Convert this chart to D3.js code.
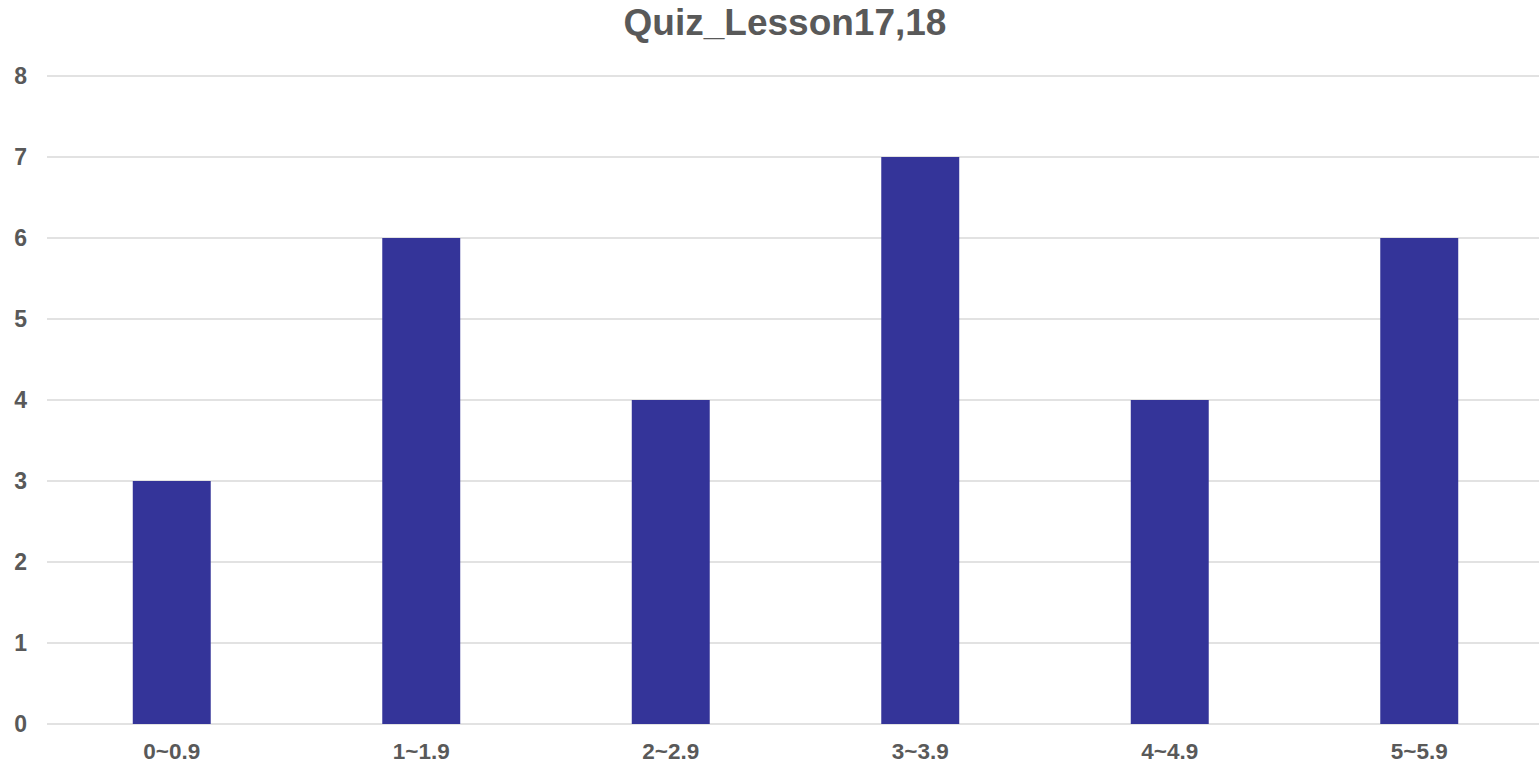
<!DOCTYPE html>
<html><head><meta charset="utf-8">
<script src="https://cdn.jsdelivr.net/npm/d3@7"></script>
<style>html,body{margin:0;padding:0;background:#fff;overflow:hidden}</style>
</head><body>
<svg id="chart" width="1539" height="765"></svg>
<script>
const categories = ["0~0.9","1~1.9","2~2.9","3~3.9","4~4.9","5~5.9"];
const values = [3,6,4,7,4,6];
const yTicks = [0,1,2,3,4,5,6,7,8];
const title = "Quiz_Lesson17,18";

const svg = d3.select("#chart");
const font = "'Liberation Sans', Arial, sans-serif";
const x = d3.scaleBand().domain(categories).range([47, 1544]).padding(0);
const y = d3.scaleLinear().domain([0, 8]).range([724, 76]);
const barW = x.bandwidth() * 0.3125;

svg.append("g").selectAll("line").data(yTicks).join("line")
  .attr("x1", 47).attr("x2", 1539)
  .attr("y1", d => y(d)).attr("y2", d => y(d))
  .attr("stroke", "#d9d9d9").attr("stroke-width", 1.3);

svg.append("g").selectAll("rect").data(values).join("rect")
  .attr("x", (d, i) => x(categories[i]) + x.bandwidth() / 2 - barW / 2)
  .attr("width", barW)
  .attr("y", d => y(d))
  .attr("height", d => y(0) - y(d))
  .attr("fill", "#343499");

svg.append("g").selectAll("text").data(yTicks).join("text")
  .attr("x", 27).attr("y", d => y(d)).attr("dy", "0.35em")
  .attr("text-anchor", "end")
  .attr("font-family", font).attr("font-weight", "bold").attr("font-size", 23)
  .attr("fill", "#595959").text(d => d);

svg.append("g").selectAll("text").data(categories).join("text")
  .attr("x", d => x(d) + x.bandwidth() / 2).attr("y", 759)
  .attr("text-anchor", "middle")
  .attr("font-family", font).attr("font-weight", "bold").attr("font-size", 22.5)
  .attr("fill", "#595959").text(d => d);

svg.append("text").attr("x", 785).attr("y", 35)
  .attr("text-anchor", "middle")
  .attr("font-family", font).attr("font-weight", "bold").attr("font-size", 37)
  .attr("fill", "#595959").text(title);
</script>
</body></html>
